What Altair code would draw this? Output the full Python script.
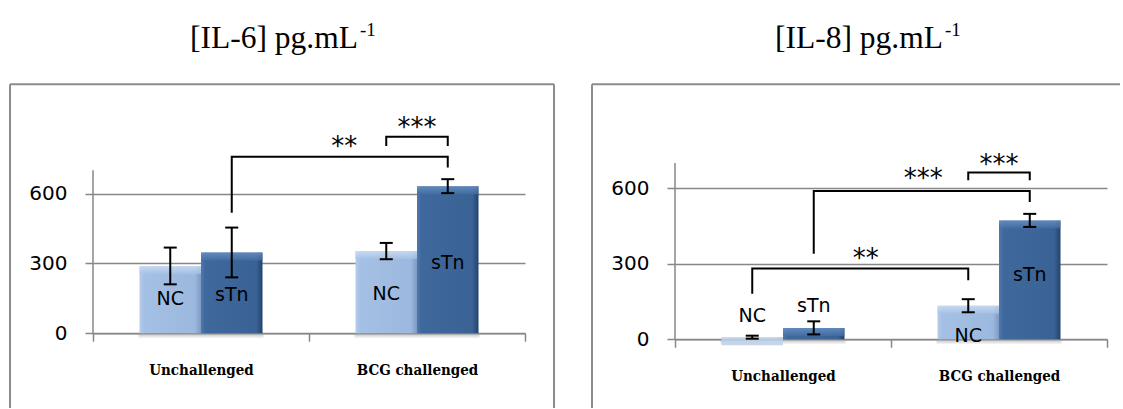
import altair as alt
import pandas as pd

# ---------------------------------------------------------------- data
conditions = ["Unchallenged", "BCG challenged"]
series = ["NC", "sTn"]

# IL-6 concentration (pg/mL), mean and error per condition
il6_nc = [289, 353]
il6_stn = [347, 632]
il6_nc_err = [79, 35]
il6_stn_err = [107, 30]

# IL-8 concentration (pg/mL), mean and error per condition
il8_nc = [8, 133]
il8_stn = [45, 472]
il8_nc_err = [6, 26]
il8_stn_err = [26, 26]

# vertical position (data units) of the NC / sTn labels, per condition
il6_label_nc = [146, 168]
il6_label_stn = [163, 303]
il8_label_nc = [92, 13]
il8_label_stn = [133, 255]

# significance brackets:
# (from condition, from series, from y, top y, to condition, to series, to y)
il6_brackets = [
    ("Unchallenged", "sTn", 518, 758, "BCG challenged", "sTn", 712),
    ("BCG challenged", "NC", 805, 844, "BCG challenged", "sTn", 805),
]
il8_brackets = [
    ("Unchallenged", "sTn", 340, 589, "BCG challenged", "sTn", 545),
    ("BCG challenged", "NC", 632, 662, "BCG challenged", "sTn", 632),
    ("Unchallenged", "NC", 181, 281, "BCG challenged", "NC", 234),
]

# significance stars: (anchor condition, anchor series or None, y, stars, dx)
il6_stars = [
    ("BCG challenged", "NC", 823, "**", -42),
    ("BCG challenged", None, 905, "***", 0),
]
il8_stars = [
    ("BCG challenged", "NC", 656, "***", -45),
    ("BCG challenged", None, 714, "***", 0),
    ("Unchallenged", "sTn", 338, "**", 52),
]

# axis extent and tick values shared by both panels
axis_top = 700
y_ticks = [0, 300, 600]

# ---------------------------------------------------------------- style
GRAY = "#878787"
AXIS_FONT = "DejaVu Sans"
CAT_FONT = "DejaVu Serif Condensed"
TITLE_FONT = "Liberation Serif"
BAR_W = 61.5
TOP = 162.1  # plot-area top inside the page

nc_fill = {"gradient": "linear", "x1": 0, "x2": 1, "y1": 0, "y2": 0,
           "stops": [{"offset": 0, "color": "#B6CDEB"},
                     {"offset": 0.07, "color": "#A4C0E4"},
                     {"offset": 0.9, "color": "#9CB8DE"},
                     {"offset": 1, "color": "#7E9BC3"}]}
stn_fill = {"gradient": "linear", "x1": 0, "x2": 1, "y1": 0, "y2": 0,
            "stops": [{"offset": 0, "color": "#5079AE"},
                      {"offset": 0.07, "color": "#3F689C"},
                      {"offset": 0.9, "color": "#3A6295"},
                      {"offset": 1, "color": "#23426B"}]}
nc_top = {"gradient": "linear", "x1": 0, "x2": 0, "y1": 0, "y2": 1,
          "stops": [{"offset": 0, "color": "#D5E4F6"},
                    {"offset": 1, "color": "#A8C2E5"}]}
stn_top = {"gradient": "linear", "x1": 0, "x2": 0, "y1": 0, "y2": 1,
           "stops": [{"offset": 0, "color": "#7299CC"},
                     {"offset": 1, "color": "#4470A5"}]}
shadow_fill = {"gradient": "linear", "x1": 0, "x2": 0, "y1": 0, "y2": 1,
               "stops": [{"offset": 0, "color": "#9a9a9a"},
                         {"offset": 1, "color": "#ffffff"}]}


def x_enc():
    return alt.X(
        "Condition:N", sort=conditions,
        scale=alt.Scale(paddingInner=0, paddingOuter=0),
        axis=alt.Axis(title=None, labelAngle=0, tickBand="extent", grid=False,
                      domainColor=GRAY, domainWidth=1.5, tickColor=GRAY,
                      tickWidth=1.5, tickSize=8, labelFont=CAT_FONT,
                      labelFontWeight="bold", labelFontSize=15,
                      labelColor="black", labelPadding=21),
    )


def xo_enc():
    return alt.XOffset("Series:N", sort=series,
                       scale=alt.Scale(paddingInner=0, paddingOuter=0.756))


def make_y(ymax):
    def y_enc(field=None, datum=None):
        kw = dict(
            scale=alt.Scale(domain=[0, ymax], nice=False),
            axis=alt.Axis(title=None, values=y_ticks, grid=True,
                          gridColor=GRAY, gridWidth=1.5, domain=False,
                          tickColor=GRAY, tickWidth=1.5, tickSize=8,
                          labelFont=AXIS_FONT, labelFontSize=20,
                          labelColor="black", labelPadding=18),
        )
        if datum is not None:
            return alt.Y(datum=datum, type="quantitative", **kw)
        return alt.Y(f"{field}:Q", **kw)
    return y_enc


def one_row():
    return alt.Chart(pd.DataFrame({"k": [0]}))


def panel(title, nc, stn, nc_err, stn_err, lab_nc, lab_stn, brackets, stars,
          px_per_300, ox, frame_left, frame_right, cell_left, cell_right,
          title_right, has_right_edge):
    zero_y = None
    # plot height from the data-unit scale of this panel
    height = None
    bars = pd.DataFrame({
        "Condition": conditions * 2,
        "Series": ["NC"] * 2 + ["sTn"] * 2,
        "Value": nc + stn,
        "Err": nc_err + stn_err,
        "LabelY": lab_nc + lab_stn,
    })
    bars["Lo"] = bars["Value"] - bars["Err"]
    bars["Hi"] = bars["Value"] + bars["Err"]

    zero_y = px_per_300[1]
    height = zero_y - TOP
    ymax = height / px_per_300[0] * 300
    y_enc = make_y(ymax)
    oy = TOP

    base = alt.Chart(bars)
    layers = []

    # soft shadow under each bar pair
    layers.append(alt.Chart(pd.DataFrame({"Condition": conditions, "Zero": [0, 0]}))
                  .mark_tick(size=2 * BAR_W + 2, thickness=5, yOffset=3,
                             fill=shadow_fill, opacity=0.6, filled=True)
                  .encode(x=x_enc(), y=y_enc("Zero")))

    for s, fill, top in (("NC", nc_fill, nc_top), ("sTn", stn_fill, stn_top)):
        sub = base.transform_filter(alt.datum.Series == s)
        layers.append(sub.mark_bar(fill=fill)
                      .encode(x=x_enc(), xOffset=xo_enc(), y=y_enc("Value")))
        layers.append(sub.mark_tick(size=BAR_W, thickness=8, yOffset=4,
                                    fill=top, filled=True)
                      .encode(x=x_enc(), xOffset=xo_enc(), y=y_enc("Value")))

    # value axis line, up to the axis top
    layers.append(one_row().mark_rule(color=GRAY, strokeWidth=1.5)
                  .encode(x=alt.value(0), y=y_enc(datum=0),
                          y2=alt.Y2(datum=axis_top)))

    # in-bar series labels
    layers.append(base.mark_text(font=AXIS_FONT, fontSize=19, color="black",
                                 baseline="middle")
                  .encode(x=x_enc(), xOffset=xo_enc(), y=y_enc("LabelY"),
                          text="Series:N"))

    # error bars
    layers.append(base.mark_rule(color="black", strokeWidth=2)
                  .encode(x=x_enc(), xOffset=xo_enc(), y=y_enc("Lo"),
                          y2="Hi:Q"))
    for f in ("Lo", "Hi"):
        layers.append(base.mark_tick(size=13, thickness=2, color="black",
                                     opacity=1, filled=True)
                      .encode(x=x_enc(), xOffset=xo_enc(), y=y_enc(f)))

    # significance brackets
    rows = []
    for i, (c1, s1, y1, yt, c2, s2, y2) in enumerate(brackets):
        rows += [
            {"B": i, "O": 0, "Condition": c1, "Series": s1, "Y": y1},
            {"B": i, "O": 1, "Condition": c1, "Series": s1, "Y": yt},
            {"B": i, "O": 2, "Condition": c2, "Series": s2, "Y": yt},
            {"B": i, "O": 3, "Condition": c2, "Series": s2, "Y": y2},
        ]
    layers.append(alt.Chart(pd.DataFrame(rows))
                  .mark_line(color="black", strokeWidth=2, strokeJoin="miter")
                  .encode(x=x_enc(), xOffset=xo_enc(), y=y_enc("Y"),
                          detail="B:N", order="O:Q"))

    for cond, ser, yv, txt, dx in stars:
        d = pd.DataFrame({"Condition": [cond], "Series": [ser or "NC"],
                          "Y": [yv], "T": [txt]})
        enc = dict(x=x_enc(), y=y_enc("Y"), text="T:N")
        if ser is not None:
            enc["xOffset"] = xo_enc()
        layers.append(alt.Chart(d).mark_text(font=AXIS_FONT, fontSize=26,
                                             color="black", baseline="middle",
                                             dx=dx, dy=5)
                      .encode(**enc))

    # panel title with superscript
    main_txt, sup_txt = title
    layers.append(one_row().mark_text(font=TITLE_FONT, fontSize=31.5,
                                      color="black", align="right",
                                      baseline="alphabetic")
                  .encode(x=alt.value(title_right), y=alt.value(46.7 - oy),
                          text=alt.value(main_txt)))
    layers.append(one_row().mark_text(font=TITLE_FONT, fontSize=19,
                                      color="black", align="left",
                                      baseline="alphabetic")
                  .encode(x=alt.value(title_right + 2), y=alt.value(35 - oy),
                          text=alt.value(sup_txt)))

    # chart-area frame
    ft, fb = 83.3 - oy, 407 - oy
    frame = dict(color="#8c8c8c", strokeWidth=2)
    layers.append(one_row().mark_rule(**frame)
                  .encode(x=alt.value(frame_left), y=alt.value(ft),
                          y2=alt.value(fb)))
    layers.append(one_row().mark_rule(**frame)
                  .encode(x=alt.value(frame_left), x2=alt.value(frame_right),
                          y=alt.value(ft)))
    if has_right_edge:
        layers.append(one_row().mark_rule(**frame)
                      .encode(x=alt.value(frame_right), y=alt.value(ft),
                              y2=alt.value(fb)))

    # invisible extent of the cell
    layers.append(one_row().mark_rule(opacity=0)
                  .encode(x=alt.value(cell_left), x2=alt.value(cell_right),
                          y=alt.value(-oy)))
    layers.append(one_row().mark_rule(opacity=0)
                  .encode(x=alt.value(cell_left), y=alt.value(-oy),
                          y2=alt.value(409 - oy)))

    return alt.layer(*layers).properties(width=432, height=height)


# px_per_300 = (pixels per 300 units, pixel row of the zero line)
left = panel(("[IL-6] pg.mL", "-1"), il6_nc, il6_stn, il6_nc_err, il6_stn_err,
             il6_label_nc, il6_label_stn, il6_brackets, il6_stars,
             px_per_300=(69.8, 332.3), ox=93, frame_left=10 - 93,
             frame_right=554 - 93, cell_left=-93, cell_right=573 - 93,
             title_right=265, has_right_edge=True)
right = panel(("[IL-8] pg.mL", "-1"), il8_nc, il8_stn, il8_nc_err, il8_stn_err,
              il8_label_nc, il8_label_stn, il8_brackets, il8_stars,
              px_per_300=(75.5, 338.3), ox=675, frame_left=592 - 675,
              frame_right=1120 - 675, cell_left=573 - 675,
              cell_right=1123 - 675, title_right=268, has_right_edge=False)

chart = (alt.hconcat(left, right, spacing=0)
         .properties(padding=0, background="white")
         .configure_view(strokeWidth=0))

chart.save("out.html", embed_options={"renderer": "svg", "actions": False})
